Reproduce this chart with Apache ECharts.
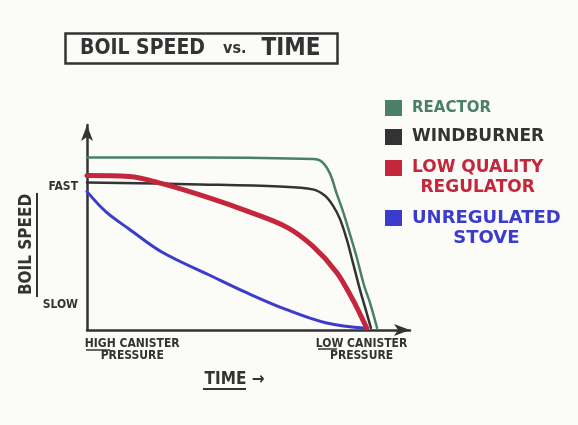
<!DOCTYPE html>
<html>
<head>
<meta charset="utf-8">
<script src="https://cdn.jsdelivr.net/npm/echarts@6/dist/echarts.min.js"></script>
<style>html,body{margin:0;padding:0;background:#fbfbf8;}#c{width:578px;height:425px;}</style>
</head>
<body>
<div id="c"></div>
<script>
// Time axis: 0 = high canister pressure, 100 = end of arrow
const reactorX = [0, 35, 70, 72.7, 75.2, 77.3, 79.2, 81.4, 83.5, 85.7, 87.6, 89.8];
const reactorY = [84.2, 84.2, 83.4, 82.1, 76.4, 66.5, 58.1, 46.8, 35.5, 22.2, 13.3, 1];
const windX = [0, 35, 59.6, 69.9, 73.6, 76.1, 78.3, 80.4, 82.3, 84.5, 86.3, 87.9];
const windY = [72.0, 71.0, 70.0, 68.6, 65.6, 60.8, 54.2, 44.3, 33, 19.7, 9.9, 1];
const regX = [0, 13, 23.3, 38.8, 49.4, 61.8, 69.9, 77.3, 82.3, 84.5, 86.6];
const regY = [75.4, 74.9, 71.4, 64, 58.1, 50.2, 40.9, 28.1, 14.8, 7.9, 1];
const stoveX = [0, 5.9, 13, 23.3, 38.8, 49.4, 61.8, 74.2, 86.6];
const stoveY = [67.5, 57.6, 49.3, 37.9, 26.1, 18.2, 9.9, 3.4, 0.8];
const seriesNames = ['REACTOR', 'WINDBURNER', 'LOW QUALITY\nREGULATOR', 'UNREGULATED\nSTOVE'];
const seriesColors = ['#4a8068', '#333333', '#c4263c', '#3c3ccc'];
const yTickValues = [70, 12.3];
const yTickLabels = ['FAST', 'SLOW'];
const xTickValues = [14, 85];
const xTickLabels = ['HIGH CANISTER\nPRESSURE', 'LOW CANISTER\nPRESSURE'];

const zip = (a, b) => a.map((v, i) => [v, b[i]]);
const FONT = "'DejaVu Sans Condensed','Liberation Sans',sans-serif";
const LFONT = "'DejaVu Sans',sans-serif";
const ink = '#333333';

const lineData = [zip(reactorX, reactorY), zip(windX, windY), zip(regX, regY), zip(stoveX, stoveY)];
const widths = [2.5, 2.5, 5, 3];

const chart = echarts.init(document.getElementById('c'));
const iconCenters = [108, 137, 168, 218];
const legendFont = [15, 17, 17, 18];
const legends = seriesNames.map((n, i) => {
  const multi = n.indexOf('\n') >= 0;
  return {
    orient: 'vertical', left: 380,
    top: iconCenters[i] - 5 - (multi ? 30 : 10),
    icon: 'rect', itemWidth: 17, itemHeight: 16, itemGap: 8,
    data: [n],
    selectedMode: false,
    formatter: (name) => name.split('\n').map(s => '{c|' + s + '}').join('\n'),
    textStyle: {
      color: seriesColors[i], fontFamily: LFONT, fontWeight: 'bold', fontSize: legendFont[i],
      lineHeight: 20, padding: multi ? [20, 0, 0, 5] : [0, 0, 0, 5],
      rich: { c: { align: 'center', color: seriesColors[i], fontFamily: LFONT, fontWeight: 'bold', fontSize: legendFont[i], lineHeight: 20 } }
    }
  };
});

chart.setOption({
  backgroundColor: '#fbfbf8',
  animation: false,
  title: {
    text: '{a|BOIL SPEED}{b|vs.}{c|TIME}',
    left: 65, top: 33,
    borderWidth: 2.5, borderColor: ink,
    padding: [4, 17, 3, 15],
    textStyle: {
      rich: {
        a: { fontFamily: FONT, fontSize: 21, fontWeight: 'bold', color: ink },
        b: { fontFamily: FONT, fontSize: 16, fontWeight: 'bold', color: ink, padding: [0, 15, 0, 18] },
        c: { fontFamily: FONT, fontSize: 24, fontWeight: 'bold', color: ink }
      }
    }
  },
  legend: legends,
  grid: { left: 87, right: 168, top: 125, bottom: 95, containLabel: false },
  xAxis: {
    type: 'value', min: 0, max: 100,
    name: 'TIME \u2192', nameLocation: 'middle', nameGap: 41,
    nameTextStyle: { fontFamily: FONT, fontWeight: 'bold', fontSize: 17, color: ink, padding: [0, 28, 0, 0] },
    axisLine: { show: true, lineStyle: { color: ink, width: 2.5 }, symbol: ['none', 'arrow'], symbolSize: [9, 16] },
    axisTick: { show: false },
    splitLine: { show: false },
    axisLabel: {
      customValues: xTickValues,
      formatter: (v) => xTickLabels[xTickValues.indexOf(v)] || '',
      fontFamily: FONT, fontWeight: 'bold', fontSize: 12, color: ink, lineHeight: 12, margin: 8
    }
  },
  yAxis: {
    type: 'value', min: 0, max: 100,
    name: 'BOIL SPEED', nameLocation: 'middle', nameGap: 52, nameRotate: 90,
    nameMoveOverlap: false,
    nameTextStyle: { fontFamily: FONT, fontWeight: 'bold', fontSize: 17, color: ink, padding: [0, 34, 0, 0] },
    axisLine: { show: true, lineStyle: { color: ink, width: 2.5 }, symbol: ['none', 'arrow'], symbolSize: [9, 16] },
    axisTick: { show: false },
    splitLine: { show: false },
    axisLabel: {
      customValues: yTickValues,
      formatter: (v) => yTickLabels[yTickValues.indexOf(v)] || '',
      fontFamily: FONT, fontWeight: 'bold', fontSize: 12, color: ink, margin: 9
    }
  },
  series: seriesNames.map((n, i) => ({
    name: n, type: 'line', data: lineData[i], smooth: 0.35, showSymbol: false,
    color: seriesColors[i],
    lineStyle: { width: widths[i], color: seriesColors[i], cap: 'round', join: 'round' },
    z: 2 + (i === 2 ? 1 : 0)
  })),
  graphic: [
    { type: 'line', shape: { x1: 86, y1: 350, x2: 110, y2: 350 }, style: { stroke: ink, lineWidth: 1.5 } },
    { type: 'line', shape: { x1: 318, y1: 349, x2: 337, y2: 349 }, style: { stroke: ink, lineWidth: 1.5 } },
    { type: 'line', shape: { x1: 203, y1: 389, x2: 246, y2: 389 }, style: { stroke: ink, lineWidth: 2 } },
    { type: 'line', shape: { x1: 37, y1: 193, x2: 37, y2: 297 }, style: { stroke: ink, lineWidth: 2 } }
  ]
});
</script>
</body>
</html>
